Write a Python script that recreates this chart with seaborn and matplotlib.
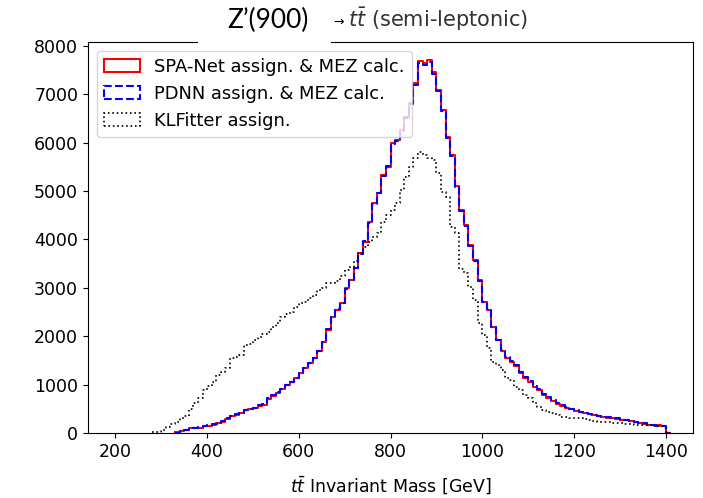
import numpy as np
import pandas as pd
import matplotlib.pyplot as plt
import seaborn as sns
from matplotlib.patches import Patch, Rectangle

# 10 GeV bins from 200 to 1400 GeV, plus one empty bin above 1400
bin_edges = np.arange(200, 1420, 10).tolist()
bin_centers = [e + 5 for e in bin_edges[:-1]]

# counts per bin
spanet = [0, 0, 0, 0, 0, 0, 0, 0, 0, 0,
          0, 0, 0, 15, 40, 62, 96, 105, 110, 140,
          151, 170, 200, 227, 290, 351, 380, 407, 470, 490,
          510, 560, 579, 700, 771, 820, 900, 992, 1050, 1130,
          1233, 1340, 1440, 1546, 1700, 1887, 2128, 2403, 2550, 2680,
          2990, 3161, 3403, 3713, 3953, 4366, 4745, 4952, 5331, 5502,
          5985, 6054, 6260, 6535, 6811, 7225, 7690, 7650, 7700, 7465,
          7087, 6674, 6122, 5750, 5100, 4600, 4300, 3884, 3574, 3161,
          2700, 2541, 2197, 1921, 1700, 1550, 1473, 1380, 1250, 1130,
          1050, 957, 888, 780, 720, 660, 600, 560, 520, 490,
          460, 430, 407, 390, 372, 350, 337, 320, 303, 290,
          270, 265, 255, 230, 200, 195, 170, 165, 160, 150, 0]

pdnn = [0, 0, 0, 0, 0, 0, 0, 0, 0, 0,
        0, 0, 0, 10, 35, 70, 90, 110, 115, 135,
        160, 180, 195, 240, 300, 345, 395, 420, 480, 500,
        525, 570, 600, 720, 780, 840, 910, 1000, 1060, 1140,
        1240, 1350, 1450, 1560, 1690, 1880, 2140, 2390, 2560, 2690,
        2980, 3170, 3410, 3700, 3960, 4350, 4730, 4960, 5320, 5510,
        5970, 6040, 6250, 6520, 6800, 7200, 7640, 7600, 7660, 7430,
        7060, 6650, 6100, 5730, 5080, 4590, 4280, 3870, 3560, 3150,
        2710, 2560, 2200, 1930, 1720, 1570, 1490, 1400, 1270, 1150,
        1070, 975, 900, 800, 740, 690, 610, 575, 530, 500,
        470, 440, 415, 395, 380, 360, 340, 325, 310, 300,
        275, 270, 250, 235, 210, 200, 175, 165, 155, 145, 0]

klfitter = [0, 0, 0, 0, 0, 0, 0, 0, 15, 25,
            60, 130, 180, 233, 303, 360, 500, 614, 717, 888,
            980, 1060, 1200, 1267, 1337, 1543, 1580, 1612, 1818, 1850,
            1921, 1990, 2050, 2093, 2200, 2266, 2403, 2450, 2506, 2600,
            2680, 2713, 2783, 2851, 2955, 3000, 3093, 3093, 3150, 3250,
            3368, 3437, 3550, 3713, 3850, 3950, 4056, 4126, 4366, 4500,
            4607, 4745, 5020, 5296, 5502, 5675, 5812, 5740, 5690, 5640,
            5365, 4986, 4883, 4263, 4126, 3400, 3299, 3024, 2748, 2266,
            2025, 1750, 1473, 1405, 1302, 1130, 1095, 957, 888, 785,
            716, 620, 544, 475, 430, 407, 372, 337, 340, 320,
            303, 300, 280, 260, 240, 233, 225, 220, 210, 205,
            200, 190, 180, 170, 165, 165, 160, 155, 150, 145, 0]

labels = ['SPA-Net assign. & MEZ calc.', 'PDNN assign. & MEZ calc.', 'KLFitter assign.']

df = pd.DataFrame({'mass': bin_centers, 'spanet': spanet, 'pdnn': pdnn, 'klfitter': klfitter})

fig, ax = plt.subplots(figsize=(7.03, 4.98), dpi=100)
fig.subplots_adjust(left=0.125, right=0.986, bottom=0.1305, top=0.916)

# each outline starts at its first filled bin (like the original)
sns.histplot(data=df, x='mass', weights='spanet', bins=bin_edges[13:], element='step',
             fill=False, color='red', linewidth=1.5, ax=ax)
sns.histplot(data=df, x='mass', weights='pdnn', bins=bin_edges[13:], element='step',
             fill=False, color='blue', linewidth=1.5, linestyle='--', ax=ax)
sns.histplot(data=df, x='mass', weights='klfitter', bins=bin_edges[8:], element='step',
             fill=False, color='black', linewidth=1.2, linestyle=':', ax=ax)

ax.set_xlim(140, 1460)
ax.set_ylim(bottom=0)
ax.set_ylabel('')
ax.set_xlabel(r'$t\bar{t}$ Invariant Mass [GeV]', fontsize=12.5, labelpad=10)
ax.tick_params(labelsize=12.5)

handles = [Patch(facecolor='none', edgecolor='red', linewidth=1.5, label=labels[0]),
           Patch(facecolor='none', edgecolor='blue', linewidth=1.5, linestyle='--', label=labels[1]),
           Patch(facecolor='none', edgecolor='black', linewidth=1.2, linestyle=':', label=labels[2])]
ax.legend(handles=handles, loc='upper left', fontsize=12.9)

# title: pasted "Z'(900)" label over the original one
fig.add_artist(Rectangle((198 / 703, 1 - 45 / 498), 133 / 703, 45 / 498,
                         transform=fig.transFigure, facecolor='white', edgecolor='none', zorder=5))
fig.text(268 / 703, 1 - 28 / 498, 'Z’(900)', family='Lato', fontsize=19,
         ha='center', va='baseline', zorder=6)
fig.text(331 / 703, 1 - 25 / 498, r'$\rightarrow$', fontsize=9, ha='left', va='baseline')
fig.text(348 / 703, 1 - 27 / 498, r'$t\bar{t}$ (semi-leptonic)', fontsize=15,
         ha='left', va='baseline', color='#333333')

fig.savefig('out.png', dpi=100)
